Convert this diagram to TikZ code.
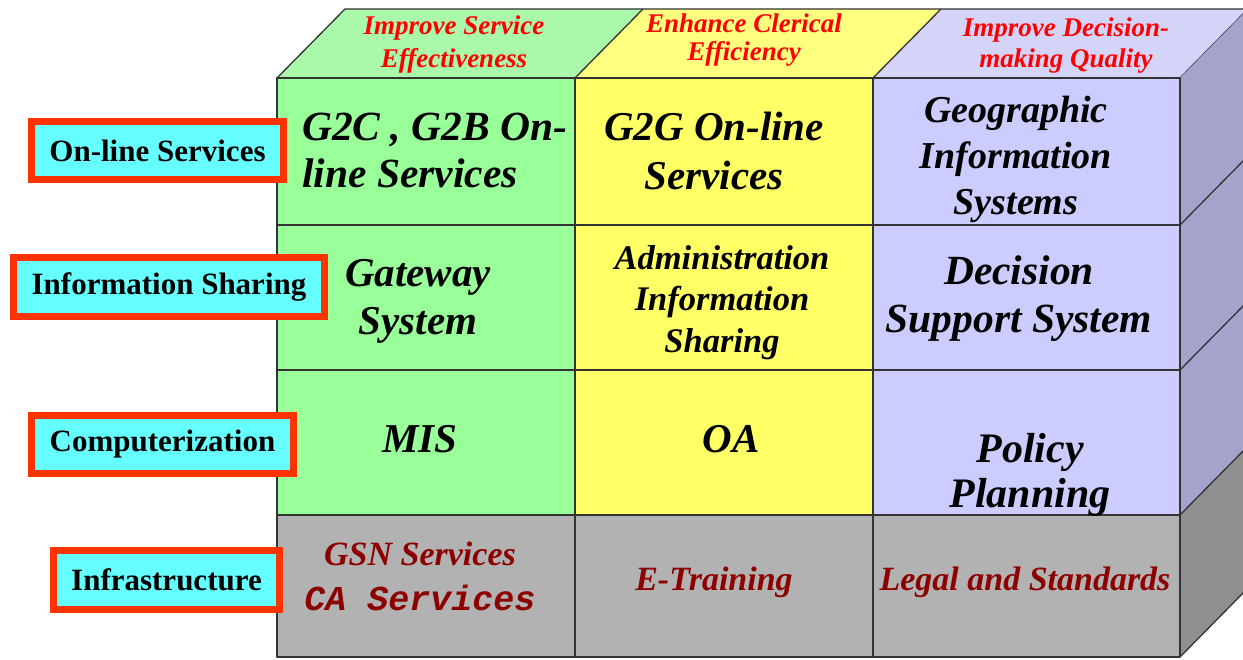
\documentclass[tikz,border=0pt]{standalone}
\usepackage{fontspec}
\setmainfont{Liberation Serif}
\newfontfamily\courierbi{Liberation Mono}
\definecolor{grnF}{HTML}{99FF99}
\definecolor{grnT}{HTML}{AAF8AA}
\definecolor{yelF}{HTML}{FFFF66}
\definecolor{yelT}{HTML}{FFFF80}
\definecolor{lavF}{HTML}{CCCCFF}
\definecolor{lavT}{HTML}{D4D4F8}
\definecolor{lavS}{HTML}{A3A3CC}
\definecolor{gryF}{HTML}{B2B2B2}
\definecolor{gryS}{HTML}{8F8F8F}
\definecolor{edgec}{HTML}{333333}
\definecolor{lblfill}{HTML}{66FFFF}
\definecolor{lblline}{HTML}{FF3300}
\definecolor{darkred}{HTML}{8C0000}
\definecolor{topred}{HTML}{FF0000}
\begin{document}
\begin{tikzpicture}[x=1pt,y=-1pt,
  face/.style={draw=edgec,line width=1.3pt,line join=round},
  cell/.style={inner sep=0pt,anchor=base,align=center},
  toptxt/.style={cell,text=topred},
  lbl/.style={draw=lblline,line width=7pt,fill=lblfill,inner sep=0pt,
    font=\fontsize{31}{36}\selectfont\bfseries},
  ]
\useasboundingbox (0,0) rectangle (1243,660);
\clip (0,0) rectangle (1243,660);
% top faces
\fill[grnT] (277,78) -- (575,78) -- (643,9) -- (345,9) -- cycle;
\fill[yelT] (575,78) -- (873,78) -- (941,9) -- (643,9) -- cycle;
\fill[lavT] (873,78) -- (1180,78) -- (1248,9) -- (941,9) -- cycle;
\draw[face] (277,78) -- (345,9) -- (1248,9);
\draw[face] (575,78) -- (643,9);
\draw[face] (873,78) -- (941,9);
\draw[face] (1180,78) -- (1248,9);
% side faces
\fill[lavS] (1180,78) -- (1248,9) -- (1248,446) -- (1180,515) -- cycle;
\fill[gryS] (1180,515) -- (1248,446) -- (1248,588) -- (1180,657) -- cycle;
\draw[face] (1180,225) -- (1248,156);
\draw[face] (1180,370) -- (1248,301);
\draw[face] (1180,515) -- (1248,446);
\draw[face] (1180,657) -- (1248,588);
% front faces
\fill[grnF] (277,78) rectangle (575,515);
\fill[yelF] (575,78) rectangle (873,515);
\fill[lavF] (873,78) rectangle (1180,515);
\fill[gryF] (277,515) rectangle (1180,657);
\draw[face] (277,78) rectangle (1180,657);
\draw[face] (575,78) -- (575,657);
\draw[face] (873,78) -- (873,657);
\draw[face] (277,225) -- (1180,225);
\draw[face] (277,370) -- (1180,370);
\draw[face] (277,515) -- (1180,515);
% top texts (base = last line)
\node[toptxt,font=\fontsize{27}{33}\selectfont\bfseries\itshape] (t1) at (454,68) {Improve Service\\Effectiveness};
\node[toptxt,font=\fontsize{27}{28}\selectfont\bfseries\itshape] (t2) at (744,61) {Enhance Clerical\\Efficiency};
\node[toptxt,font=\fontsize{27}{31}\selectfont\bfseries\itshape] (t3) at (1066,68) {Improve Decision-\\making Quality};
% cell texts (base = last line)
\node[cell,anchor=base west,align=left,font=\fontsize{41.5}{47}\selectfont\bfseries\itshape] (c11) at (302,188) {G2C , G2B On-\\line Services};
\node[cell,font=\fontsize{41}{49}\selectfont\bfseries\itshape] (c12) at (714,190) {G2G On-line\\Services};
\node[cell,font=\fontsize{38}{46}\selectfont\bfseries\itshape] (c13) at (1016,215) {Geographic\\Information\\Systems};
\node[cell,font=\fontsize{41}{48}\selectfont\bfseries\itshape] (c21) at (418,335) {Gateway\\System};
\node[cell,font=\fontsize{34.5}{42}\selectfont\bfseries\itshape] (c22) at (722,353) {Administration\\Information\\Sharing};
\node[cell,font=\fontsize{41.5}{48}\selectfont\bfseries\itshape] (c23) at (1019,333) {Decision\\Support System};
\node[cell,font=\fontsize{41}{48}\selectfont\bfseries\itshape] (c31) at (420,452) {MIS};
\node[cell,font=\fontsize{41}{48}\selectfont\bfseries\itshape] (c32) at (731,452) {OA};
\node[cell,font=\fontsize{42}{45}\selectfont\bfseries\itshape] (c33) at (1030,507) {Policy\\Planning};
\node[cell,text=darkred,font=\fontsize{34}{45}\selectfont\bfseries\itshape] (c41) at (420,610) {GSN Services\\{\courierbi\fontsize{35}{45}\selectfont\bfseries\itshape CA Services}};
\node[cell,text=darkred,font=\fontsize{34}{40}\selectfont\bfseries\itshape] (c42) at (714,590) {E-Training};
\node[cell,text=darkred,font=\fontsize{34}{40}\selectfont\bfseries\itshape] (c43) at (1025,590) {Legal and Standards};
% left labels
\node[lbl,minimum width=252pt,minimum height=58pt] (l1) at (157.5,150.5) {On-line Services};
\node[lbl,minimum width=311pt,minimum height=59pt] (l2) at (169,287) {Information Sharing};
\node[lbl,minimum width=262pt,minimum height=58pt] (l3) at (162.5,444.5) {Computerization};
\node[lbl,minimum width=226pt,minimum height=59pt] (l4) at (166.5,580) {Infrastructure};
\end{tikzpicture}
\end{document}
